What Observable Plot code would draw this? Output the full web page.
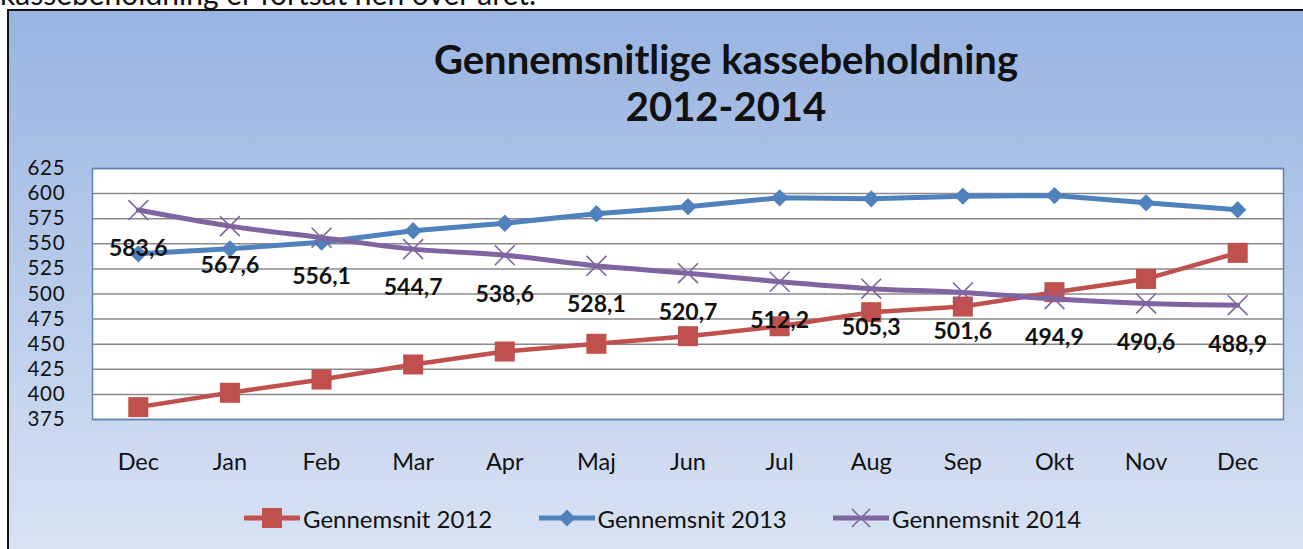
<!DOCTYPE html>
<html>
<head>
<meta charset="utf-8">
<script src="https://cdn.jsdelivr.net/npm/d3@7"></script>
<script src="https://cdn.jsdelivr.net/npm/@observablehq/plot@0.6"></script>
<style>
  html, body { margin:0; padding:0; }
  body { width:1303px; height:549px; overflow:hidden; position:relative; font-family:Lato, "Open Sans", sans-serif; background:white; }
  #doctext { position:absolute; left:0; top:0; width:1303px; height:9px; overflow:hidden; }
  #doctext span { position:absolute; left:0px; top:-22px; font-size:30px; line-height:30px; white-space:nowrap; color:#111; }
  #box { position:absolute; left:7px; top:9px; width:1400px; height:600px; border:2px solid #111; background:linear-gradient(#98b4e2, #dbe4f4 560px); }
  #title { position:absolute; left:0; top:36px; width:1452px; text-align:center; font-weight:bold; font-size:40px; line-height:47px; color:#111; }
  #chart { position:absolute; left:0; top:140px; }
  .leg { position:absolute; top:505px; height:26px; display:flex; align-items:center; font-size:24px; color:#111; white-space:nowrap; }
  .leg svg { margin-right:3px; flex:none; }
  .yax text { letter-spacing:0.8px; }
</style>
</head>
<body>
<div id="doctext"><span>kassebeholdning er fortsat hen over året.</span></div>
<div id="box"></div>
<div id="title"></div>
<div id="chart"></div>
<div id="legend"></div>
<script>
const titleLines = ["Gennemsnitlige kassebeholdning", "2012-2014"];
const months = ["Dec","Jan","Feb","Mar","Apr","Maj","Jun","Jul","Aug","Sep","Okt","Nov","Dec"];
const avg2012 = [387.3, 401.6, 414.8, 429.8, 442.7, 450.4, 458.0, 467.9, 481.9, 487.5, 501.8, 515.0, 541.0];
const avg2013 = [540.0, 545.0, 551.6, 563.0, 570.5, 579.9, 587.0, 595.8, 594.8, 597.4, 598.0, 590.8, 583.9];
const avg2014 = [583.6, 567.6, 556.1, 544.7, 538.6, 528.1, 520.7, 512.2, 505.3, 501.6, 494.9, 490.6, 488.9];
const seriesNames = ["Gennemsnit 2012", "Gennemsnit 2013", "Gennemsnit 2014"];
const seriesColors = ["#c0504d", "#4f81bd", "#8064a2"];
const yTicks = [375, 400, 425, 450, 475, 500, 525, 550, 575, 600, 625];

document.getElementById("title").innerHTML = titleLines.join("<br>");

const toRows = (vals, s) => vals.map((v, i) => ({i, month: months[i], value: v, series: s}));
const d2012 = toRows(avg2012, seriesNames[0]);
const d2013 = toRows(avg2013, seriesNames[1]);
const d2014 = toRows(avg2014, seriesNames[2]);
const fmt = v => d3.format(".1f")(v).replace(".", ",");

const chart = Plot.plot({
  width: 1303, height: 340,
  marginTop: 28, marginLeft: 92, marginRight: 20, marginBottom: 61,
  style: {background: "transparent", fontFamily: "Lato, 'Open Sans', sans-serif", fontSize: "23px", color: "#111", overflow: "visible"},
  x: {type: "point", domain: d3.range(months.length), padding: 0.5, round: false, label: null},
  y: {domain: [375, 625], label: null},
  marks: [
    Plot.frame({fill: "white"}),
    Plot.gridY(yTicks, {stroke: "#8a8a8a", strokeOpacity: 1, strokeWidth: 1.5}),
    Plot.frame({stroke: "#5a82bb", strokeWidth: 1.5}),
    Plot.axisX({tickSize: 0, tickPadding: 34, fontSize: 23.5, label: null, tickFormat: i => months[i]}),
    Plot.axisY({ticks: yTicks, tickSize: 0, tickPadding: 27, fontSize: 20.5, label: null, className: "yax"}),
    Plot.line(d2012, {x: "i", y: "value", stroke: seriesColors[0], strokeWidth: 4.5}),
    Plot.dot(d2012, {x: "i", y: "value", symbol: "square", r: 11.3, fill: seriesColors[0], stroke: "none"}),
    Plot.line(d2013, {x: "i", y: "value", stroke: seriesColors[1], strokeWidth: 5}),
    Plot.dot(d2013, {x: "i", y: "value", symbol: "diamond2", r: 7.8, fill: seriesColors[1], stroke: "none"}),
    Plot.line(d2014, {x: "i", y: "value", stroke: seriesColors[2], strokeWidth: 5, curve: "catmull-rom"}),
    Plot.dot(d2014, {x: "i", y: "value", symbol: "times", r: 9.1, fill: "none", stroke: seriesColors[2], strokeWidth: 1.6}),
    Plot.text(d2014, {x: "i", y: "value", text: d => fmt(d.value), dy: 39, fontWeight: "bold", fontSize: 23, fill: "#111"})
  ]
});
document.getElementById("chart").appendChild(chart);

// legend
const legend = document.getElementById("legend");
const symbols = ["square", "diamond", "times"];
seriesNames.forEach((name, k) => {
  const item = document.createElement("div");
  item.className = "leg";
  item.style.left = (244 + k * 294.5) + "px";
  const c = seriesColors[k];
  let sym;
  if (symbols[k] === "square") sym = `<rect x="18" y="3" width="20" height="20" fill="${c}"/>`;
  else if (symbols[k] === "diamond") sym = `<path d="M28,4.5 L36.5,13 L28,21.5 L19.5,13 Z" fill="${c}"/>`;
  else sym = `<path d="M19,4 L37,22 M37,4 L19,22" stroke="${c}" stroke-width="1.6"/>`;
  item.innerHTML = `<svg width="56" height="26"><line x1="0" y1="13" x2="56" y2="13" stroke="${c}" stroke-width="5"/>${sym}</svg><span>${name}</span>`;
  legend.appendChild(item);
});
</script>
</body>
</html>
